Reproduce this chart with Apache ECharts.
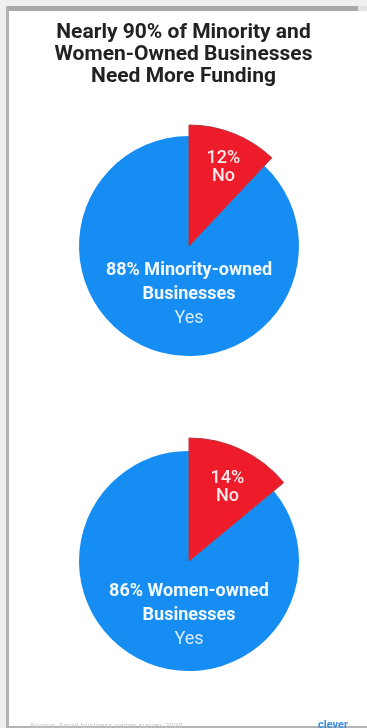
<!DOCTYPE html>
<html>
<head>
<meta charset="utf-8">
<title>Nearly 90% of Minority and Women-Owned Businesses Need More Funding</title>
<script src="https://cdn.jsdelivr.net/npm/echarts@6/dist/echarts.min.js"></script>
<style>
  html, body { margin: 0; padding: 0; background: #ffffff; }
  #chart { width: 367px; height: 728px; }
</style>
</head>
<body>
<div id="chart"></div>
<script>
// Survey answers: does the business need more funding?
const answers = ['No', 'Yes'];
const minorityShares = [12, 88];
const womenShares = [14, 86];
const groupNames = ['Minority-owned', 'Women-owned'];
const chartTitle = 'Nearly 90% of Minority and\nWomen-Owned Businesses\nNeed More Funding';

const groups = [
  { name: groupNames[0], shares: minorityShares, center: [189, 246], shift: 48, outer: 121, lift: 38 },
  { name: groupNames[1], shares: womenShares, center: [189, 561], shift: 54, outer: 123, lift: 30 }
];

const BLUE = '#168df2';
const RED = '#ee1c2a';
const FONT = 'Roboto, "Noto Sans", sans-serif';

const series = [];
groups.forEach(function (g) {
  // Blue "Yes" wedge with its caption placed under the pie centre
  series.push({
    type: 'pie',
    name: g.name + ' yes',
    center: g.center,
    radius: 110,
    startAngle: 90,
    silent: true,
    animation: false,
    labelLine: { show: false },
    data: answers.map(function (a, i) {
      const isYes = a === 'Yes';
      return {
        name: a,
        value: g.shares[i],
        itemStyle: { color: isYes ? BLUE : 'rgba(0,0,0,0)' },
        label: isYes ? {
          show: true,
          position: 'center',
          padding: [g.shift * 2, 0, 0, 0],
          formatter: '{b|' + g.shares[i] + '% ' + g.name + '}\n{b|Businesses}\n{r|' + a + '}',
          rich: {
            b: { color: '#f2f8ff', fontFamily: FONT, fontWeight: 'bold', fontSize: 18, lineHeight: 24 },
            r: { color: '#d6eaff', fontFamily: FONT, fontWeight: 'normal', fontSize: 18, lineHeight: 24 }
          }
        } : { show: false }
      };
    })
  });
  // Red "No" wedge drawn with a slightly larger radius
  series.push({
    type: 'pie',
    name: g.name + ' no',
    center: g.center,
    radius: g.outer,
    startAngle: 90,
    silent: true,
    animation: false,
    labelLine: { show: false },
    data: answers.map(function (a, i) {
      const isNo = a === 'No';
      return {
        name: a,
        value: g.shares[i],
        itemStyle: isNo
          ? { color: RED, borderColor: '#b8323a', borderWidth: 1 }
          : { color: 'rgba(0,0,0,0)' },
        label: isNo ? {
          show: true,
          position: 'inside',
          padding: [0, 0, 0, 22],
          formatter: '{v|' + g.shares[i] + '%}\n{v|' + a + '}\n{s|}',
          rich: {
            v: { color: '#fbe9ea', fontFamily: FONT, fontSize: 18, lineHeight: 18, fontWeight: 500, align: 'center' },
            s: { height: g.lift, lineHeight: g.lift }
          }
        } : { show: false }
      };
    })
  });
});

const chart = echarts.init(document.getElementById('chart'), null, { renderer: 'canvas' });
chart.setOption({
  backgroundColor: '#ffffff',
  animation: false,
  title: {
    text: chartTitle,
    left: 'center',
    top: 17,
    textStyle: {
      fontFamily: FONT,
      fontWeight: 'bold',
      fontSize: 21,
      lineHeight: 22,
      color: '#222222'
    }
  },
  graphic: [
    { type: 'rect', left: 0, top: 0, shape: { width: 367, height: 6 }, style: { fill: '#efefef' }, silent: true },
    { type: 'rect', left: 0, top: 0, shape: { width: 6, height: 728 }, style: { fill: '#efefef' }, silent: true },
    { type: 'rect', left: 6, top: 6, shape: { width: 352, height: 5 }, style: { fill: '#a9a9a9' }, silent: true },
    { type: 'rect', left: 358, top: 6, shape: { width: 9, height: 5 }, style: { fill: '#e3e3e3' }, silent: true },
    { type: 'rect', left: 6, top: 6, shape: { width: 3, height: 722 }, style: { fill: '#b3b3b3' }, silent: true },
    { type: 'rect', left: 6, top: 726, shape: { width: 361, height: 2 }, style: { fill: '#b3b3b3' }, silent: true },
    {
      type: 'text', left: 30, top: 722, silent: true,
      style: { text: 'Source: Small business owner survey, 2020', fill: '#c8c8c8', font: '8px ' + FONT }
    },
    {
      type: 'text', left: 318, top: 720, silent: true,
      style: { text: 'clever', fill: '#3d8fe0', font: 'bold 11px ' + FONT }
    }
  ],
  series: series
});
</script>
</body>
</html>
